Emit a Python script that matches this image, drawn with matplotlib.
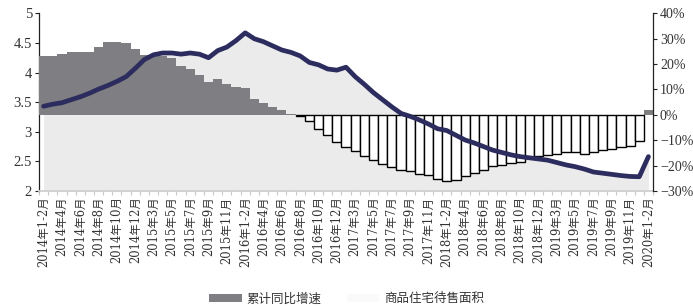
import matplotlib
matplotlib.use("Agg")
import matplotlib.pyplot as plt
from matplotlib.patches import Patch
from matplotlib.ticker import FixedLocator, FuncFormatter
import numpy as np

plt.rcParams['font.family'] = ['DejaVu Serif', 'Noto Sans CJK SC', 'DejaVu Sans']

# ---- data ----
years = [2014, 2015, 2016, 2017, 2018, 2019]
months = ['1-2', '3', '4', '5', '6', '7', '8', '9', '10', '11', '12']
categories = [f"{y}年{m}月" for y in years for m in months] + ["2020年1-2月"]

# cumulative YoY growth (%), right axis
growth = [23.0, 23.3, 23.9, 24.9, 24.9, 24.9, 26.9, 28.6, 28.6, 28.2, 25.9,
          23.6, 23.6, 23.0, 22.3, 19.4, 18.0, 15.7, 12.9, 14.2, 12.2, 11.1,
          10.5, 6.2, 4.6, 3.0, 1.8, 0.3, -0.6, -2.4, -5.6, -8.1, -10.9,
          -12.5, -14.2, -16.1, -17.7, -19.3, -20.6, -21.9, -22.0, -23.2, -23.9,
          -25.2, -26.1, -25.6, -24.3, -23.0, -21.7, -20.3, -19.7, -19.0, -18.4,
          -17.1, -16.4, -16.0, -15.4, -14.7, -14.7, -15.4, -14.7, -13.8, -13.4,
          -12.7, -12.2, -10.2, 2.0]

# unsold commercial housing area (left axis)
stock = [3.43, 3.465, 3.49, 3.54, 3.59, 3.65, 3.72, 3.78, 3.85, 3.93, 4.07,
         4.22, 4.30, 4.33, 4.33, 4.31, 4.33, 4.31, 4.25, 4.37, 4.43, 4.54,
         4.67, 4.57, 4.52, 4.45, 4.38, 4.34, 4.28, 4.17, 4.13, 4.06, 4.04,
         4.09, 3.93, 3.80, 3.66, 3.54, 3.42, 3.31, 3.26, 3.20, 3.13, 3.05,
         3.02, 2.94, 2.86, 2.81, 2.75, 2.69, 2.65, 2.61, 2.58, 2.56, 2.54,
         2.52, 2.48, 2.44, 2.41, 2.37, 2.32, 2.30, 2.28, 2.26, 2.245, 2.24,
         2.58]

left_ticks = [2, 2.5, 3, 3.5, 4, 4.5, 5]
right_ticks = [-30, -20, -10, 0, 10, 20, 30, 40]

# ---- styles ----
AREA = '#EBEBEB'
BAR = '#7F7F83'
LINE = '#2C2C5E'
TICKFONT = ['Liberation Serif', 'DejaVu Sans']

fig = plt.figure(figsize=(6.93, 3.06), dpi=100)
ax1 = fig.add_axes([0.0563, 0.376, 0.886, 0.5805])
ax2 = ax1.twinx()
ax3 = ax1.twinx()

x = np.arange(len(categories))

# area on left axis
ax1.fill_between(x, 2, stock, color=AREA, linewidth=0)
ax1.set_ylim(2, 5)
ax1.set_xlim(-0.5, len(categories) - 0.5)

# bars on right axis
g = np.array(growth)
ax2.bar(x[g > 0], g[g > 0], width=1.0, color=BAR, linewidth=0)
ax2.bar(x[g < 0], g[g < 0], width=1.0, color='white', edgecolor='black', linewidth=1.0)
ax2.set_ylim(-30, 40)
ax2.set_xlim(-0.5, len(categories) - 0.5)

# line on top
ax3.plot(x, stock, color=LINE, linewidth=3.4, solid_capstyle='round', solid_joinstyle='round')
ax3.set_ylim(2, 5)
ax3.set_xlim(-0.5, len(categories) - 0.5)
ax3.axis('off')

# spines
for ax in (ax1, ax2):
    ax.spines['top'].set_visible(False)
ax1.spines['right'].set_visible(False)
ax2.spines['left'].set_visible(False)
ax2.spines['bottom'].set_visible(False)
ax1.spines['left'].set_color('#222222')
ax1.spines['left'].set_linewidth(0.9)
ax2.spines['right'].set_color('#222222')
ax2.spines['right'].set_linewidth(0.9)
ax1.spines['bottom'].set_color('#D0D0D0')
ax1.spines['bottom'].set_linewidth(1.3)

# y ticks
ax1.set_yticks(left_ticks)
ax1.yaxis.set_major_formatter(FuncFormatter(lambda v, p: f"{v:g}"))
ax1.tick_params(axis='y', direction='out', length=3, width=0.8, color='#222222',
                labelsize=10.5, pad=2, labelcolor='#333333')
for t in ax1.get_yticklabels():
    t.set_family(TICKFONT)
ax2.set_yticks(right_ticks)
ax2.yaxis.set_major_formatter(FuncFormatter(lambda v, p: (f"{int(v)}%" if v >= 0 else f"\u2212{int(-v)}%")))
ax2.tick_params(axis='y', direction='out', length=3, width=0.8, color='#222222',
                labelsize=10, pad=2, labelcolor='#333333')
for t in ax2.get_yticklabels():
    t.set_family(TICKFONT)

# x ticks
ax1.set_xticks(x[::2])
ax1.set_xticklabels(categories[::2], rotation=90, fontsize=8.3, color='#333333')
ax1.tick_params(axis='x', which='major', length=0, pad=4)
ax1.xaxis.set_minor_locator(FixedLocator(np.arange(-0.5, len(categories), 1.0)))
ax1.tick_params(axis='x', which='minor', length=3, width=0.8, color='#C8C8C8', direction='out')

# legend
handles = [Patch(facecolor=BAR, edgecolor='none', label='累计同比增速'),
           Patch(facecolor='#FAFAFA', edgecolor='none', label='商品住宅待售面积')]
fig.legend(handles=handles, loc='lower center', bbox_to_anchor=(0.5, -0.035), ncol=2,
           frameon=False, prop={'family': ['Noto Sans CJK SC'], 'size': 9},
           handlelength=2.6, handleheight=0.6, columnspacing=2.0, handletextpad=0.4,
           labelcolor='#333333')

fig.savefig('out.png', dpi=100)
